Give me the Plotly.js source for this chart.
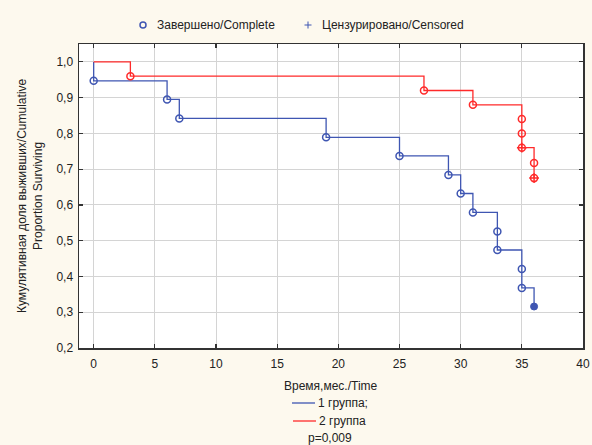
<!DOCTYPE html>
<html>
<head>
<meta charset="utf-8">
<script src="https://cdn.plot.ly/plotly-3.0.1.min.js"></script>
<style>html,body{margin:0;padding:0;background:#FDF9EE;}#chart{width:592px;height:445px;}</style>
</head>
<body>
<div id="chart"></div>
<script>
// Group 1 (blue) Kaplan-Meier step points
var g1Time = [0, 0, 6, 7, 19, 25, 29, 30, 31, 33, 33, 35, 35, 36];
var g1Surv = [1.0, 0.947, 0.895, 0.842, 0.789, 0.737, 0.684, 0.632, 0.579, 0.526, 0.474, 0.421, 0.368, 0.316];
// Group 1 complete (event) markers
var g1EvTime = [0, 6, 7, 19, 25, 29, 30, 31, 33, 33, 35, 35];
var g1EvSurv = [0.947, 0.895, 0.842, 0.789, 0.737, 0.684, 0.632, 0.579, 0.526, 0.474, 0.421, 0.368];
// Group 1 censored markers
var g1CenTime = [36];
var g1CenSurv = [0.316];

// Group 2 (red)
var g2Time = [0, 3, 27, 31, 35, 35, 35, 36, 36];
var g2Surv = [1.0, 0.96, 0.92, 0.88, 0.84, 0.80, 0.76, 0.717, 0.675];
var g2EvTime = [3, 27, 31, 35, 35, 35, 36, 36];
var g2EvSurv = [0.96, 0.92, 0.88, 0.84, 0.80, 0.76, 0.717, 0.675];
var g2CenTime = [35, 36];
var g2CenSurv = [0.76, 0.675];

var xTicks = [0, 5, 10, 15, 20, 25, 30, 35, 40];
var yTicks = [0.2, 0.3, 0.4, 0.5, 0.6, 0.7, 0.8, 0.9, 1.0];

var groupNames = ['1 группа;', '2 группа'];
var markerNames = ['Завершено/Complete', 'Цензурировано/Censored'];
var xTitle = 'Время,мес./Time';
var yTitle = 'Кумулятивная доля выживших/Cumulative<br>Proportion Surviving';
var pText = 'p=0,009';

var BLUE = '#3F56B2', RED = '#FF2A2A';
var FONT = 'Liberation Sans, Arial, sans-serif';

var traces = [
  {x: g1Time, y: g1Surv, mode: 'lines', line: {shape: 'hv', color: BLUE, width: 1.3}, showlegend: false, hoverinfo: 'skip'},
  {x: g2Time, y: g2Surv, mode: 'lines', line: {shape: 'hv', color: RED, width: 1.3}, showlegend: false, hoverinfo: 'skip'},
  {x: g1EvTime, y: g1EvSurv, mode: 'markers', marker: {symbol: 'circle-open', size: 7, color: BLUE, line: {width: 1.5, color: BLUE}}, showlegend: false},
  {x: g2EvTime, y: g2EvSurv, mode: 'markers', marker: {symbol: 'circle-open', size: 7, color: RED, line: {width: 1.5, color: RED}}, showlegend: false},
  {x: g1CenTime, y: g1CenSurv, mode: 'markers', marker: {symbol: 'circle', size: 7, color: BLUE, line: {width: 1, color: BLUE}}, showlegend: false},
  {x: g2CenTime, y: g2CenSurv, mode: 'markers', marker: {symbol: 'cross-thin-open', size: 7, color: RED, line: {width: 1.5, color: RED}}, showlegend: false}
];

var L = 79, R = 583, T = 44, B = 348;
function px(x) { return (x - L) / (R - L); }
function py(y) { return (B - y) / (B - T); }

var annotations = [
  {xref: 'paper', yref: 'paper', x: px(155), y: py(25), xanchor: 'left', yanchor: 'middle', text: markerNames[0], showarrow: false, font: {family: FONT, size: 12, color: '#222'}},
  {xref: 'paper', yref: 'paper', x: px(320), y: py(25), xanchor: 'left', yanchor: 'middle', text: markerNames[1], showarrow: false, font: {family: FONT, size: 12, color: '#222'}},
  {xref: 'paper', yref: 'paper', x: px(331), y: py(386), xanchor: 'center', yanchor: 'middle', text: xTitle, showarrow: false, font: {family: FONT, size: 12, color: '#222'}},
  {xref: 'paper', yref: 'paper', x: px(316), y: py(403), xanchor: 'left', yanchor: 'middle', text: groupNames[0], showarrow: false, font: {family: FONT, size: 12, color: '#222'}},
  {xref: 'paper', yref: 'paper', x: px(317), y: py(421), xanchor: 'left', yanchor: 'middle', text: groupNames[1], showarrow: false, font: {family: FONT, size: 12, color: '#222'}},
  {xref: 'paper', yref: 'paper', x: px(330), y: py(438), xanchor: 'center', yanchor: 'middle', text: pText, showarrow: false, font: {family: FONT, size: 12, color: '#222'}},
  {xref: 'paper', yref: 'paper', x: px(30), y: py(196), xanchor: 'center', yanchor: 'middle', textangle: -90, text: yTitle, showarrow: false, font: {family: FONT, size: 12, color: '#222'}}
];

var shapes = [
  {type: 'circle', xref: 'paper', yref: 'paper', x0: px(140), x1: px(146), y0: py(22), y1: py(28), line: {color: BLUE, width: 1.5}},
  {type: 'line', xref: 'paper', yref: 'paper', x0: px(304.5), x1: px(311.5), y0: py(25), y1: py(25), line: {color: BLUE, width: 1}},
  {type: 'line', xref: 'paper', yref: 'paper', x0: px(308), x1: px(308), y0: py(21.5), y1: py(28.5), line: {color: BLUE, width: 1}},
  {type: 'line', xref: 'paper', yref: 'paper', x0: px(292), x1: px(315), y0: py(403), y1: py(403), line: {color: BLUE, width: 1.3}},
  {type: 'line', xref: 'paper', yref: 'paper', x0: px(293), x1: px(316), y0: py(421), y1: py(421), line: {color: RED, width: 1.3}}
];

var axisCommon = {
  showgrid: true, gridcolor: '#D4D4D4', gridwidth: 1,
  showline: true, linecolor: '#333', linewidth: 1.5, mirror: 'ticks',
  ticks: 'inside', ticklen: 4, tickcolor: '#333', tickwidth: 1.2,
  zeroline: false, tickfont: {family: FONT, size: 12, color: '#222'}
};

var layout = {
  width: 592, height: 445,
  paper_bgcolor: '#FDF9EE', plot_bgcolor: '#FFFFFF',
  margin: {l: L, r: 592 - R, t: T, b: 445 - B, pad: 0},
  separators: ',.',
  showlegend: false,
  xaxis: Object.assign({}, axisCommon, {range: [-1.2, 40], tickmode: 'array', tickvals: xTicks, ticktext: xTicks.map(String), ticklabelstandoff: 4}),
  yaxis: Object.assign({}, axisCommon, {range: [0.2, 1.05], tickmode: 'array', tickvals: yTicks, tickformat: '.1f', ticklabelstandoff: 2}),
  annotations: annotations,
  shapes: shapes
};

Plotly.newPlot('chart', traces, layout, {staticPlot: true, displayModeBar: false});
</script>
</body>
</html>
